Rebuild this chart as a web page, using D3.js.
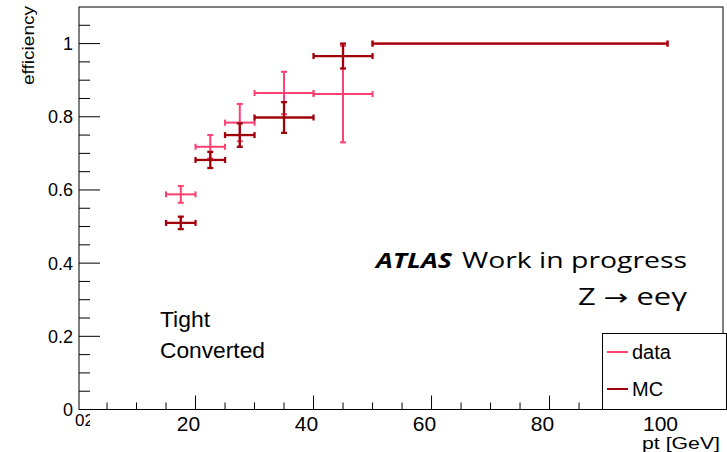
<!DOCTYPE html>
<html>
<head>
<meta charset="utf-8">
<script src="https://cdn.jsdelivr.net/npm/d3@7"></script>
<style>
html,body{margin:0;padding:0;background:#fff;}
svg{display:block;font-family:"Liberation Sans",Arial,sans-serif;}
</style>
</head>
<body>
<svg id="chart" width="727" height="452"></svg>
<script>
// ---- data ----
const binLo = [15, 20, 25, 30, 40, 50];
const binHi = [20, 25, 30, 40, 50, 100];
const dataEff = [0.588, 0.718, 0.784, 0.865, 0.862, 1.0];
const dataErr = [0.023, 0.032, 0.051, 0.058, 0.132, 0];
const mcEff = [0.510, 0.682, 0.750, 0.798, 0.966, 1.0];
const mcErr = [0.017, 0.022, 0.032, 0.042, 0.034, 0];
const xMajorTicks = [20, 40, 60, 80, 100];
const xMinorTicks = [5, 10, 15, 25, 30, 35, 45, 50, 55, 65, 70, 75, 85, 90, 95, 105];
const yMajorTicks = [0, 0.2, 0.4, 0.6, 0.8, 1];
const yMinorTicks = [0.05, 0.1, 0.15, 0.25, 0.3, 0.35, 0.45, 0.5, 0.55, 0.65, 0.7, 0.75, 0.85, 0.9, 0.95, 1.05];
const seriesNames = ["data", "MC"];
const colors = {data: "#ff3f6f", MC: "#a0000a"};

const svg = d3.select("#chart");
const L = 79, R = 723, T = 7, B = 409.5;
const x = d3.scaleLinear().domain([0.25, 109.4]).range([L, R]);
const y = d3.scaleLinear().domain([0, 1.1]).range([B, T]);

// frame
svg.append("rect").attr("x", L).attr("y", T).attr("width", R - L).attr("height", B - T)
  .attr("fill", "none").attr("stroke", "#000").attr("stroke-width", 1);

// y axis ticks
const gy = svg.append("g");
gy.selectAll("line.maj").data(yMajorTicks).join("line")
  .attr("x1", L).attr("x2", L + 21).attr("y1", d => y(d)).attr("y2", d => y(d))
  .attr("stroke", "#000").attr("stroke-width", 1);
gy.selectAll("line.min").data(yMinorTicks).join("line")
  .attr("x1", L).attr("x2", L + 11).attr("y1", d => y(d)).attr("y2", d => y(d))
  .attr("stroke", "#000").attr("stroke-width", 1);
gy.selectAll("text").data(yMajorTicks).join("text")
  .attr("x", 73).attr("y", d => y(d)).attr("dy", "0.36em")
  .attr("text-anchor", "end").attr("font-size", 18)
  .text(d => d === 0 ? "0" : (d === 1 ? "1" : d3.format(".1f")(d)));

// x axis ticks
const gx = svg.append("g");
gx.selectAll("line.maj").data(xMajorTicks).join("line")
  .attr("x1", d => x(d)).attr("x2", d => x(d)).attr("y1", B).attr("y2", B - 14)
  .attr("stroke", "#000").attr("stroke-width", 1);
gx.selectAll("line.min").data(xMinorTicks).join("line")
  .attr("x1", d => x(d)).attr("x2", d => x(d)).attr("y1", B).attr("y2", B - 7)
  .attr("stroke", "#000").attr("stroke-width", 1);
gx.selectAll("text").data(xMajorTicks).join("text")
  .attr("x", d => x(d) - 7).attr("y", 431)
  .attr("text-anchor", "middle").attr("font-size", 21)
  .text(d => d);
// clipped "02" label at origin
svg.append("clipPath").attr("id", "c02").append("rect")
  .attr("x", 74).attr("y", 410).attr("width", 16).attr("height", 20);
svg.append("text").attr("x", 75).attr("y", 426).attr("font-size", 17)
  .attr("clip-path", "url(#c02)").text("02");

// axis titles
svg.append("text").attr("transform", "translate(34,6) rotate(-90)")
  .attr("text-anchor", "end").attr("font-size", 16)
  .attr("textLength", 79).attr("lengthAdjust", "spacingAndGlyphs")
  .text("efficiency");
svg.append("text").attr("x", 720).attr("y", 449)
  .attr("text-anchor", "end").attr("font-size", 16)
  .attr("textLength", 78).attr("lengthAdjust", "spacingAndGlyphs").text("pt [GeV]");

// error bars
function drawSeries(name, eff, err, lw) {
  const col = colors[name];
  const g = svg.append("g").attr("stroke", col).attr("stroke-width", lw).attr("fill", "none");
  const pts = eff.map((v, i) => ({lo: binLo[i], hi: binHi[i], v: v, e: err[i]}));
  pts.forEach(p => {
    const cx = x((p.lo + p.hi) / 2), cy = y(p.v);
    g.append("line").attr("x1", x(p.lo)).attr("x2", x(p.hi)).attr("y1", cy).attr("y2", cy);
    g.append("line").attr("x1", x(p.lo)).attr("x2", x(p.lo)).attr("y1", cy - 3).attr("y2", cy + 3);
    g.append("line").attr("x1", x(p.hi)).attr("x2", x(p.hi)).attr("y1", cy - 3).attr("y2", cy + 3);
    if (p.e > 0) {
      g.append("line").attr("x1", cx).attr("x2", cx).attr("y1", y(p.v + p.e)).attr("y2", y(p.v - p.e));
      g.append("line").attr("x1", cx - 3).attr("x2", cx + 3).attr("y1", y(p.v + p.e)).attr("y2", y(p.v + p.e));
      g.append("line").attr("x1", cx - 3).attr("x2", cx + 3).attr("y1", y(p.v - p.e)).attr("y2", y(p.v - p.e));
    }
  });
}
drawSeries("data", dataEff, dataErr, 2);
drawSeries("MC", mcEff, mcErr, 2.3);

// labels
svg.append("text").attr("x", 160).attr("y", 327).attr("font-size", 22)
  .attr("textLength", 50).attr("lengthAdjust", "spacingAndGlyphs").text("Tight");
svg.append("text").attr("x", 160).attr("y", 358).attr("font-size", 22)
  .attr("textLength", 105).attr("lengthAdjust", "spacingAndGlyphs").text("Converted");

const calib = "'Open Sans', 'Noto Sans', sans-serif";
svg.append("text").attr("x", 376).attr("y", 268)
  .style("font-family", calib).style("font-size", "22px")
  .style("font-weight", "bold").style("font-style", "italic")
  .attr("textLength", 76).attr("lengthAdjust", "spacingAndGlyphs").text("ATLAS");
svg.append("text").attr("x", 462).attr("y", 268)
  .style("font-family", calib).style("font-size", "22px")
  .attr("textLength", 225).attr("lengthAdjust", "spacingAndGlyphs").text("Work in progress");
const zt = svg.append("text").attr("x", 578).attr("y", 305)
  .style("font-family", calib).style("font-size", "23px")
  .attr("textLength", 109).attr("lengthAdjust", "spacingAndGlyphs");
zt.append("tspan").text("Z ");
zt.append("tspan").style("font-family", "'DejaVu Sans', sans-serif").style("font-size", "22px").text("\u2192");
zt.append("tspan").text(" ee\u03b3");

// legend
const lg = svg.append("g");
lg.append("rect").attr("x", 602.5).attr("y", 333.5).attr("width", 124).attr("height", 76)
  .attr("fill", "#fff").attr("stroke", "#000").attr("stroke-width", 1);
const legY = [352, 389];
seriesNames.forEach((n, i) => {
  lg.append("line").attr("x1", 607).attr("x2", 628).attr("y1", legY[i]).attr("y2", legY[i])
    .attr("stroke", colors[n]).attr("stroke-width", 2);
  lg.append("text").attr("x", 632).attr("y", legY[i]).attr("dy", "0.36em")
    .attr("font-size", 20).text(n);
});
</script>
</body>
</html>
